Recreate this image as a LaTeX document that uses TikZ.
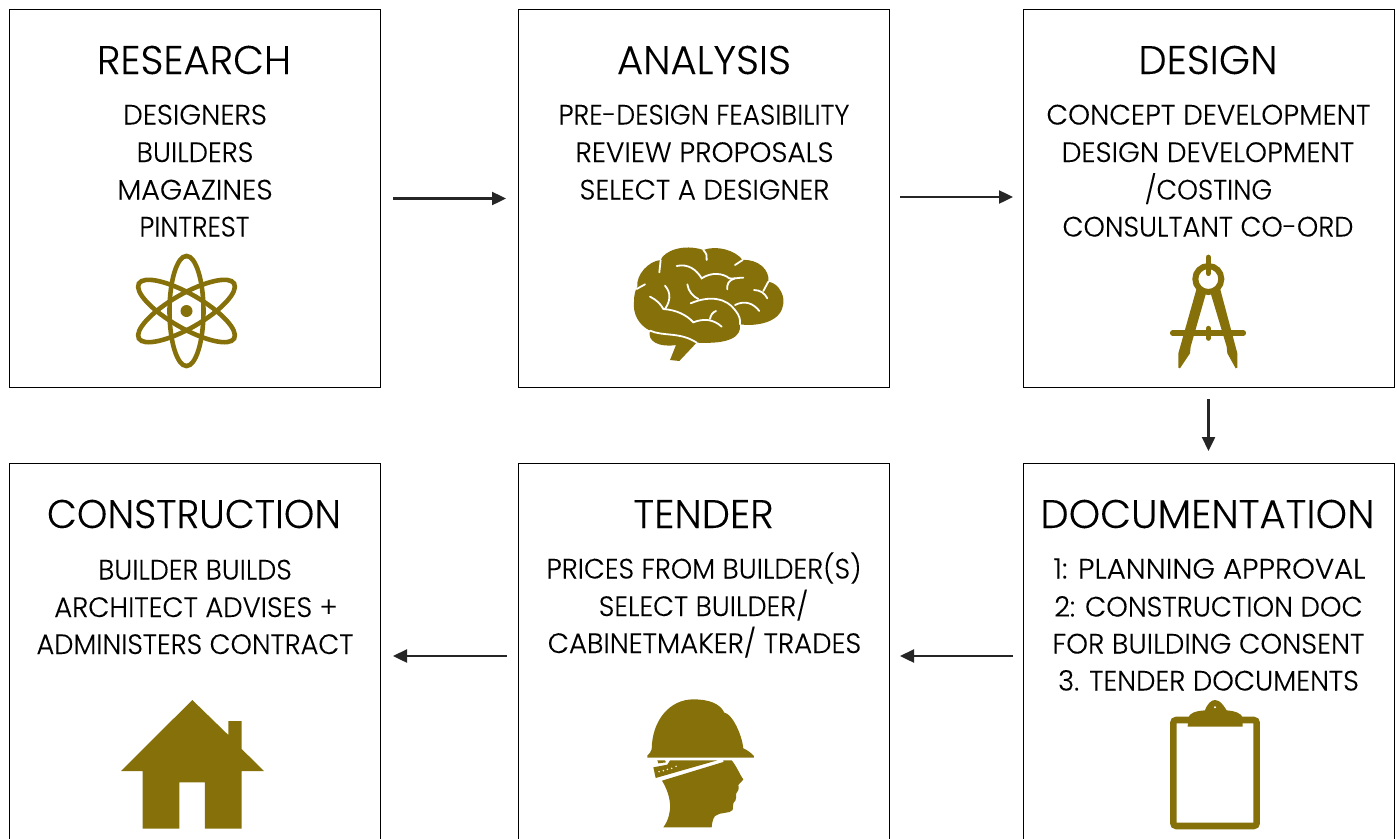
\documentclass[tikz,border=0pt]{standalone}
\usepackage{fontspec}
\usepackage{graphicx}
\setmainfont{Poppins Light}[FakeBold=0.12]
\usetikzlibrary{arrows.meta}
\definecolor{gold}{HTML}{86700A}
\definecolor{ink}{HTML}{262626}
\newcommand{\sx}[2]{\scalebox{#1}[1]{#2}}
\tikzset{
  box/.style={draw=black,line width=0.9pt,minimum width=371pt,minimum height=378pt,inner sep=0pt,outer sep=0pt},
  title/.style={anchor=base,inner sep=0pt,font=\fontsize{40}{40}\selectfont,text=black},
  body/.style={anchor=base,inner sep=0pt,font=\fontsize{28}{28}\selectfont,text=black},
  arr/.style={draw=ink,line width=2.4pt,-{Triangle[length=14pt,width=13pt]}},
  crease/.style={draw=white,line width=1.8pt,line cap=round,fill=none}
}
\begin{document}
\begin{tikzpicture}[x=1pt,y=-1pt]
\useasboundingbox (0,0) rectangle (1397,838);
\clip (0,0) rectangle (1397,838);
\node[box] (research) at (194.5,198.5) {};
\node[box] (analysis) at (703.5,198) {};
\node[box] (design) at (1208.5,198) {};
\node[box] (construction) at (194.5,652) {};
\node[box] (tender) at (703.5,652) {};
\node[box] (documentation) at (1208.5,652) {};
\draw[arr,shorten <=13pt,shorten >=12pt] (research.east) -- (research.east -| analysis.west);
\draw[arr,shorten <=11pt,shorten >=10pt] ([yshift=1pt]analysis.east) -- ([yshift=1pt]analysis.east -| design.west);
\draw[arr,shorten <=12pt,shorten >=12pt] (design.south) -- (documentation.north);
\draw[arr,shorten <=10pt,shorten >=11pt] ([yshift=-4pt]documentation.west) -- ([yshift=-4pt]documentation.west -| tender.east);
\draw[arr,shorten <=11pt,shorten >=13pt] ([yshift=-4pt]tender.west) -- ([yshift=-4pt]tender.west -| construction.east);
% texts
\node[title] (t1) at (194,74) {RESEARCH};
\node[body] (a1) at (195,124.5) {DESIGNERS};
\node[body] (a2) at (195,162) {\sx{.975}{BUILDERS}};
\node[body] (a3) at (195,199.5) {\sx{1.02}{MAGAZINES}};
\node[body] (a4) at (194.5,236.5) {\sx{.94}{PINTREST}};
\node[title] (t2) at (704,74) {ANALYSIS};
\node[body] (b1) at (704,124.5) {\sx{.95}{PRE-DESIGN FEASIBILITY}};
\node[body] (b2) at (704.5,162) {REVIEW PROPOSALS};
\node[body] (b3) at (704.5,199.5) {\sx{.985}{SELECT A DESIGNER}};
\node[title] (t3) at (1208,74) {DESIGN};
\node[body] (c1) at (1208.5,124.5) {CONCEPT DEVELOPMENT};
\node[body] (c2) at (1208,162) {DESIGN DEVELOPMENT};
\node[body] (c3) at (1208.5,199.5) {\sx{.95}{/COSTING}};
\node[body] (c4) at (1208,236.5) {\sx{.97}{CONSULTANT CO-ORD}};
\node[title] (t4) at (194,528) {\sx{.97}{CONSTRUCTION}};
\node[body] (d1) at (195,579.5) {\sx{.965}{BUILDER BUILDS}};
\node[body] (d2) at (196,617) {\sx{.98}{ARCHITECT ADVISES +}};
\node[body] (d3) at (195,654) {\sx{.97}{ADMINISTERS CONTRACT}};
\node[title] (t5) at (703.5,528) {TENDER};
\node[body] (e1) at (704,578.5) {\sx{.97}{PRICES FROM BUILDER(S)}};
\node[body] (e2) at (703.5,616) {\sx{.97}{SELECT BUILDER/}};
\node[body] (e3) at (704.5,653) {\sx{.985}{CABINETMAKER/ TRADES}};
\node[title] (t6) at (1207.5,528) {DOCUMENTATION};
\node[body] (f1) at (1209.5,578.5) {\sx{1.04}{1: PLANNING APPROVAL}};
\node[body] (f2) at (1208.5,616.5) {\sx{.98}{2: CONSTRUCTION DOC}};
\node[body] (f3) at (1208.5,653.5) {\sx{.99}{FOR BUILDING CONSENT}};
\node[body] (f4) at (1208.5,690.5) {\sx{.98}{3. TENDER DOCUMENTS}};
% atom
\begin{scope}[shift={(186.5,311)}]
\draw[gold,line width=4.6pt] (0,0) ellipse [x radius=17,y radius=55];
\draw[gold,line width=4.6pt,rotate=60] (0,0) ellipse [x radius=17,y radius=55];
\draw[gold,line width=4.6pt,rotate=-60] (0,0) ellipse [x radius=17,y radius=55];
\fill[gold] (0,0) circle (6);
\end{scope}
% brain
\begin{scope}[shift={(620,235)},x=0.3333pt,y=-0.3333pt]
\fill[gold] (42,200) .. controls (42,180) and (46,165) .. (52,155)
 .. controls (48,120) and (85,78) .. (122,75)
 .. controls (132,48) and (190,25) .. (250,45)
 .. controls (290,30) and (345,45) .. (368,75)
 .. controls (415,72) and (450,105) .. (445,140)
 .. controls (480,145) and (498,190) .. (488,215)
 .. controls (478,262) and (410,275) .. (360,268)
 .. controls (365,305) and (330,328) .. (230,323)
 -- (178,378) -- (150,375) -- (168,330)
 .. controls (120,338) and (80,320) .. (90,287)
 .. controls (55,270) and (38,235) .. (42,200) -- cycle;
\draw[crease] (122,75) -- (118,112);
\draw[crease] (75,148) -- (50,162);
\draw[crease] (250,45) .. controls (260,55) and (262,65) .. (260,75);
\draw[crease] (368,75) -- (345,90);
\draw[crease] (170,93) .. controls (205,85) and (230,105) .. (245,130) .. controls (275,110) and (310,115) .. (328,130) .. controls (340,132) and (355,128) .. (370,128);
\draw[crease] (345,130) .. controls (325,135) and (320,150) .. (322,163);
\draw[crease] (445,140) -- (430,168);
\draw[crease] (402,165) .. controls (420,165) and (435,175) .. (442,190);
\draw[crease] (202,148) .. controls (205,170) and (220,185) .. (235,192);
\draw[crease] (212,205) .. controls (270,180) and (320,190) .. (345,225) .. controls (358,240) and (362,255) .. (360,268);
\draw[crease] (345,210) .. controls (375,195) and (400,205) .. (418,228);
\draw[crease] (135,152) .. controls (155,175) and (150,200) .. (135,222);
\draw[crease] (90,185) .. controls (110,195) and (122,207) .. (130,222) .. controls (170,225) and (200,240) .. (220,262) .. controls (250,250) and (280,252) .. (305,275);
\draw[crease] (270,252) .. controls (272,240) and (278,232) .. (288,228);
\draw[crease] (90,287) .. controls (130,305) and (180,290) .. (230,323);
\end{scope}
% compass
\begin{scope}[shift={(1150,245)},x=0.3333pt,y=-0.3333pt]
\draw[gold,line width=6pt] (175,102) circle (39);
\draw[gold,line width=5.5pt,line cap=round] (175,37) -- (175,85);
\fill[gold] (140,130) -- (168,145) -- (122,305) -- (120,325) -- (90,370) -- (85,368) -- (85,325) -- cycle;
\fill[gold] (182,145) -- (210,130) -- (262,325) -- (262,368) -- (257,370) -- (232,325) -- (230,305) -- cycle;
\draw[gold,line width=5.5pt,line cap=round] (68,264) -- (280,264);
\draw[gold,line width=5pt,line cap=round] (175,250) -- (175,280);
\end{scope}
% hard hat
\begin{scope}[shift={(630,690)},x=0.3333pt,y=-0.3333pt]
\fill[gold] (52,203) -- (52,197) .. controls (58,190) and (64,185) .. (65,178) .. controls (66,90) and (120,28) .. (190,28) .. controls (235,28) and (270,40) .. (283,68) .. controls (305,70) and (335,130) .. (340,175) .. controls (352,180) and (365,190) .. (372,198) -- (372,203) -- cycle;
\fill[gold] (82,211) -- (105,211) -- (108,217) -- (85,220) -- cycle;
\fill[gold] (70,232) -- (112,224) -- (120,211) -- (262,211) -- (77,264) -- cycle;
\fill[gold] (96,272) -- (280,216) -- (280,211) -- (305,211) .. controls (318,225) and (330,255) .. (340,268) .. controls (335,278) and (325,280) .. (325,285) .. controls (328,295) and (325,305) .. (318,312) .. controls (318,320) and (320,325) .. (316,332) .. controls (305,340) and (312,350) .. (308,360) .. controls (300,372) and (270,365) .. (255,378) .. controls (248,388) and (246,400) .. (245,412) -- (100,412) .. controls (130,370) and (125,320) .. (96,272) -- cycle;
\foreach \p in {(87,245),(100,242),(112,238),(125,235),(138,229)} \fill[white] \p circle (2.5);
\end{scope}
% clipboard
\begin{scope}[shift={(1150,695)},x=0.3333pt,y=-0.3333pt]
\draw[gold,line width=6.6pt,rounded corners=3pt] (70,75) rectangle (320,393);
\fill[gold] (113,95) -- (115,68) .. controls (118,55) and (135,48) .. (165,46) .. controls (172,25) and (185,15) .. (195,15) .. controls (210,15) and (220,30) .. (230,46) .. controls (255,48) and (275,55) .. (278,68) -- (278,95) -- cycle;
\fill[white] (195,37) circle (3.4);
\end{scope}
% house
\begin{scope}[shift={(110,690)},x=0.3333pt,y=-0.3333pt]
\fill[gold] (33,243) -- (247,30) -- (355,135) -- (355,93) -- (395,93) -- (395,177) -- (462,243) -- (395,243) -- (395,416) -- (285,416) -- (285,277) -- (208,277) -- (208,416) -- (98,416) -- (98,243) -- cycle;
\end{scope}
\end{tikzpicture}
\end{document}
